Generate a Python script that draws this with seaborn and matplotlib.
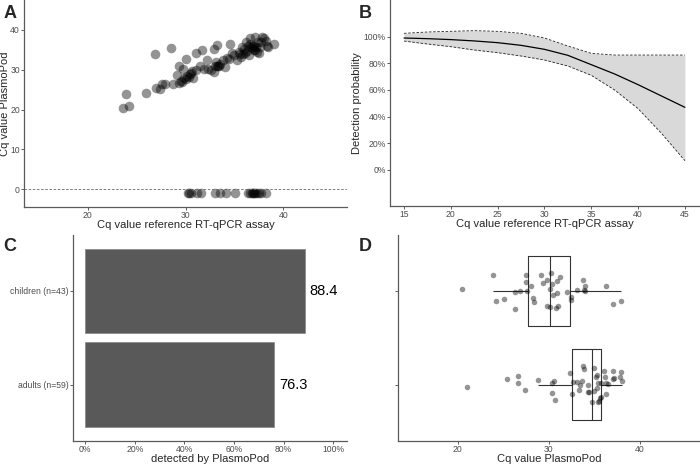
import numpy as np
import pandas as pd
import seaborn as sns
import matplotlib.pyplot as plt
from matplotlib.ticker import PercentFormatter

# A: Cq reference assay vs Cq PlasmoPod (samples detected by PlasmoPod)
ref_cq = [23.6, 24.2, 23.9, 26.0, 26.9, 28.5, 27.0, 27.4, 27.6, 27.9,
          28.7, 29.1, 29.3, 29.7, 30.0, 29.3, 29.5, 29.8, 30.0, 30.4,
          30.5, 30.8, 30.7, 31.1, 31.1, 31.7, 31.5, 32.2, 32.3, 32.6,
          32.9, 32.9, 33.2, 33.1, 33.3, 33.4, 33.8, 34.0, 34.2, 34.5,
          34.4, 35.0, 35.3, 35.5, 35.6, 35.7, 36.0, 36.1, 36.2, 36.6,
          36.5, 36.7, 36.9, 37.0, 37.1, 37.2, 37.3, 37.4, 37.6, 37.8,
          38.0, 38.2, 38.4, 39.0, 37.5, 36.4, 35.8, 33.0, 33.2, 29.6,
          30.2, 36.8, 37.0, 36.3, 35.9, 37.7, 38.3, 34.8, 31.9, 33.5,
          36.6, 37.1, 30.6]
pod_cq = [20.4, 20.9, 23.8, 24.2, 33.9, 35.3, 25.4, 25.2, 26.3, 26.3,
          26.5, 28.6, 31.0, 30.1, 32.6, 26.7, 27.2, 28.0, 27.6, 28.1,
          28.9, 27.9, 29.7, 30.0, 34.1, 35.0, 30.8, 32.5, 30.1, 30.0,
          29.5, 35.1, 36.2, 31.9, 30.8, 31.0, 32.4, 30.7, 33.0, 36.4,
          32.6, 33.7, 32.4, 34.5, 33.9, 33.2, 35.1, 34.1, 36.8, 38.0,
          33.6, 35.6, 36.0, 34.9, 38.1, 35.6, 34.5, 36.8, 35.6, 38.2,
          37.9, 37.2, 35.6, 36.5, 34.1, 35.9, 35.6, 30.8, 31.0, 27.0,
          28.3, 35.3, 35.8, 34.6, 34.0, 37.0, 36.0, 34.2, 30.2, 31.3,
          36.4, 35.0, 29.1]
# samples missed by PlasmoPod, shown just below zero
ref_cq_neg = [30.3, 30.4, 30.6, 31.2, 31.6, 33.0, 33.5, 34.1, 35.1, 36.4,
              36.6, 36.8, 36.9, 37.0, 37.1, 37.3, 37.5, 37.7, 38.2]
neg_level = -1

# B: modelled detection probability with confidence band
prob_cq = [15, 17.5, 20, 22.5, 25, 27.5, 30, 32.5, 35, 37.5, 40, 42.5, 45]
prob_fit = [0.99, 0.985, 0.978, 0.968, 0.955, 0.935, 0.905, 0.86, 0.79,
            0.72, 0.64, 0.555, 0.47]
prob_upper = [1.025, 1.035, 1.04, 1.045, 1.04, 1.025, 0.99, 0.93, 0.875,
              0.862, 0.862, 0.862, 0.862]
prob_lower = [0.967, 0.945, 0.925, 0.90, 0.88, 0.855, 0.825, 0.78, 0.71,
              0.60, 0.46, 0.275, 0.07]

# C: share detected per group
groups = ['children (n=43)', 'adults (n=59)']
detected_pct = [88.4, 76.3]

# D: PlasmoPod Cq values per group
children_cq = [23.9, 24.25, 20.5, 25.1, 26.3, 26.3, 26.8, 27.5, 27.5, 27.6,
               28.3, 28.4, 28.1, 29.1, 29.4, 29.75, 29.85, 30.1, 30.1, 30.2,
               30.5, 30.8, 30.9, 30.9, 31.05, 31.2, 31.96, 32.4, 32.4, 33.1,
               33.7, 34.0, 34.0, 33.9, 36.3, 37.0, 37.96, 30.3]
adults_cq = [20.98, 26.65, 26.65, 25.4, 27.4, 28.8, 30.3, 30.4, 30.55, 30.7,
             32.35, 32.5, 32.6, 33.1, 33.3, 33.4, 33.6, 33.8, 33.85, 34.25,
             34.3, 34.4, 34.75, 34.95, 35.0, 35.2, 35.3, 35.3, 35.35, 35.5,
             35.6, 35.7, 35.7, 36.0, 36.2, 36.3, 36.3, 36.5, 37.0, 37.0,
             37.2, 37.85, 37.96, 38.0, 35.35]

sns.set_theme(style='ticks')
plt.rcParams['font.family'] = ['Liberation Sans', 'DejaVu Sans']
plt.rcParams['axes.edgecolor'] = '#5a5a5a'
plt.rcParams['axes.linewidth'] = 0.9

fig = plt.figure(figsize=(7, 4.65), dpi=100)
axA = fig.add_axes([0.0343, 0.5548, 0.4614, 0.4452])
axB = fig.add_axes([0.5571, 0.557, 0.4414, 0.443])
axC = fig.add_axes([0.1039, 0.0523, 0.3914, 0.443])
axD = fig.add_axes([0.569, 0.0523, 0.430, 0.443])

lab_size = 8
tick_kw = dict(labelsize=6.2, labelcolor='#4d4d4d', length=2, width=0.6,
               color='#444444', pad=1)

# --- A
dfA = pd.DataFrame({'ref': ref_cq + ref_cq_neg,
                    'pod': pod_cq + [neg_level] * len(ref_cq_neg)})
axA.axhline(0, color='#666666', lw=0.6, ls=(0, (3, 2)))
sns.scatterplot(data=dfA, x='ref', y='pod', s=48, color='black', alpha=0.42,
                linewidth=0, ax=axA)
axA.set_xlim(13.5, 46.5)
axA.set_ylim(-4.4, 47.4)
axA.set_xticks([20, 30, 40])
axA.set_yticks([0, 10, 20, 30, 40])
axA.set_xlabel('Cq value reference RT-qPCR assay', fontsize=lab_size, labelpad=0)
axA.set_ylabel('Cq value PlasmoPod', fontsize=lab_size, labelpad=0)

# --- B
axB.fill_between(prob_cq, prob_lower, prob_upper, color='#d9d9d9', lw=0)
sns.lineplot(x=prob_cq, y=prob_fit, color='black', lw=0.9, ax=axB)
sns.lineplot(x=prob_cq, y=prob_upper, color='#222222', lw=0.6, ax=axB).lines[-1].set_linestyle((0, (3, 2)))
sns.lineplot(x=prob_cq, y=prob_lower, color='#222222', lw=0.6, ax=axB).lines[-1].set_linestyle((0, (3, 2)))
axB.set_xlim(13.5, 46.5)
axB.set_ylim(-0.27, 1.275)
axB.set_xticks([15, 20, 25, 30, 35, 40, 45])
axB.set_yticks([0, 0.2, 0.4, 0.6, 0.8, 1.0])
axB.yaxis.set_major_formatter(PercentFormatter(1.0, decimals=0))
axB.set_xlabel('Cq value reference RT-qPCR assay', fontsize=lab_size, labelpad=0)
axB.set_ylabel('Detection probability', fontsize=lab_size, labelpad=1)

# --- C
dfC = pd.DataFrame({'group': groups, 'share': [p / 100 for p in detected_pct]})
sns.barplot(data=dfC, x='share', y='group', orient='h', color='#595959',
            saturation=1, width=0.9, edgecolor='#8c8c8c', linewidth=0.6, ax=axC)
for i, p in enumerate(detected_pct):
    axC.text(p / 100 + 0.02, i, f'{p:.1f}', va='center', ha='left',
             fontsize=10.5, color='black')
axC.set_xlim(-0.05, 1.054)
axC.set_ylim(1.6, -0.6)
axC.set_xticks([0, 0.2, 0.4, 0.6, 0.8, 1.0])
axC.xaxis.set_major_formatter(PercentFormatter(1.0, decimals=0))
axC.set_xlabel('detected by PlasmoPod', fontsize=lab_size, labelpad=0)
axC.set_ylabel('')

# --- D
dfD = pd.DataFrame({'cq': children_cq + adults_cq,
                    'group': [groups[0]] * len(children_cq) + [groups[1]] * len(adults_cq)})
sns.boxplot(data=dfD, x='cq', y='group', orient='h', width=0.75, fill=False,
            showfliers=False, color='#333333', linewidth=0.8,
            capprops=dict(visible=False), ax=axD)
np.random.seed(7)
sns.stripplot(data=dfD, x='cq', y='group', orient='h', jitter=0.2, size=4,
              color='black', alpha=0.42, linewidth=0, ax=axD)
axD.set_xlim(13.5, 46.5)
axD.set_ylim(1.6, -0.6)
axD.set_xticks([20, 30, 40])
axD.set_yticklabels([])
axD.set_xlabel('Cq value PlasmoPod', fontsize=lab_size, labelpad=0)
axD.set_ylabel('')

for ax in (axA, axB, axC, axD):
    sns.despine(ax=ax)
    ax.tick_params(**tick_kw)
    ax.grid(False)

for lab, (x, y) in zip('ABCD', [(0.005, 0.972), (0.513, 0.972), (0.005, 0.47), (0.513, 0.47)]):
    fig.text(x, y, lab, fontsize=13, fontweight='bold', va='center', ha='left')

fig.savefig('out.png', dpi=100)
